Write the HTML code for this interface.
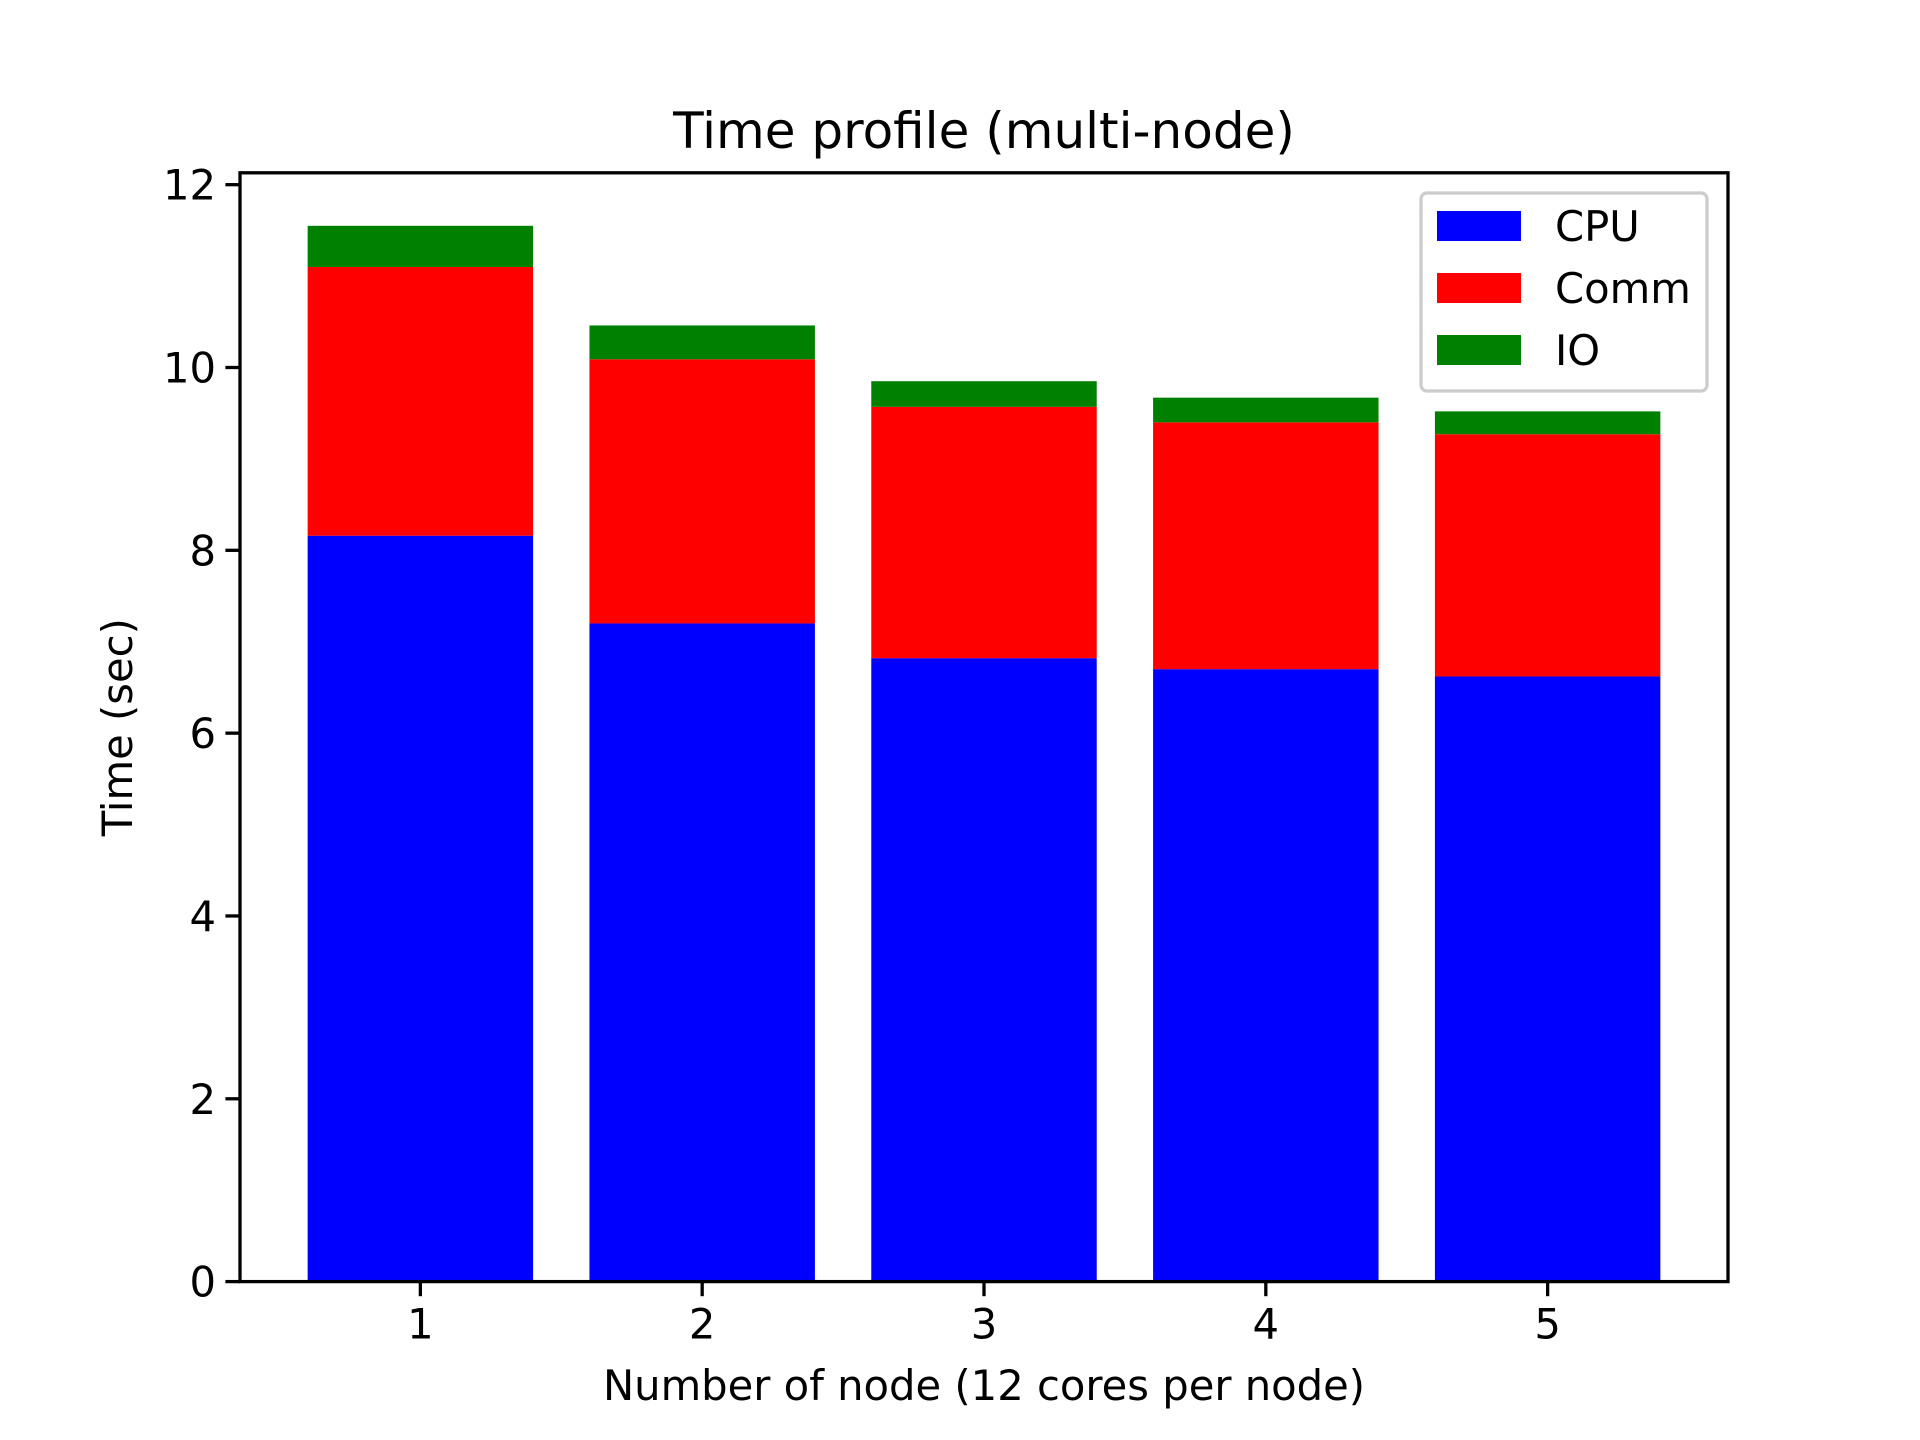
<!DOCTYPE html>
<html><head><meta charset="utf-8"><style>
html,body{margin:0;padding:0;background:#fff;width:1920px;height:1440px;overflow:hidden}
svg text{font-family:"DejaVu Sans","Liberation Sans",sans-serif;fill:#000}
</style></head><body>
<svg id="chart" width="1920" height="1440" viewBox="0 0 1920 1440" xmlns="http://www.w3.org/2000/svg"></svg>
<script>
const categories = [1, 2, 3, 4, 5];
const cpuValues = [8.16, 7.20, 6.82, 6.70, 6.62];
const commValues = [2.94, 2.89, 2.75, 2.70, 2.65];
const ioValues = [0.45, 0.37, 0.28, 0.27, 0.25];
const yTicks = [0, 2, 4, 6, 8, 10, 12];
const seriesNames = ["CPU", "Comm", "IO"];

const NS = "http://www.w3.org/2000/svg";
const svg = document.getElementById("chart");
const L = 240, R = 1728, T = 172.8, B = 1281.6;
const xMin = 0.36, xMax = 5.64, yMin = 0, yMax = 12.13;
const xs = v => L + (v - xMin) / (xMax - xMin) * (R - L);
const ys = v => B - (v - yMin) / (yMax - yMin) * (B - T);
function mk(tag, attrs, parent) {
  const e = document.createElementNS(NS, tag);
  for (const k in attrs) e.setAttribute(k, attrs[k]);
  (parent || svg).appendChild(e);
  return e;
}
const colors = ["#0000ff", "#ff0000", "#008000"];
const series = [cpuValues, commValues, ioValues];
const bw = 0.8;
categories.forEach((c, i) => {
  let base = 0;
  series.forEach((s, j) => {
    const top = base + s[i];
    const r = mk("rect", {x: xs(c - bw / 2), y: ys(top), width: xs(c + bw / 2) - xs(c - bw / 2), height: ys(base) - ys(top), fill: colors[j]});
    
    
    base = top;
  });
});
const frame = mk("rect", {x: L, y: T, width: R - L, height: B - T, fill: "none", stroke: "#000", "stroke-width": 3.3});


categories.forEach(c => {
  const x = xs(c);
  mk("line", {x1: x, x2: x, y1: B, y2: B + 14.6, stroke: "#000", "stroke-width": 3.3});
  const t = mk("text", {x: x, y: B + 57, "font-size": 41.7, "text-anchor": "middle"});
  t.textContent = c;
  
  
});
yTicks.forEach(v => {
  const y = ys(v);
  mk("line", {x1: L - 14.6, x2: L, y1: y, y2: y, stroke: "#000", "stroke-width": 3.3});
  const t = mk("text", {x: L - 24, y: y + 15, "font-size": 41.7, "text-anchor": "end"});
  t.textContent = v;
  
  
});
const title = mk("text", {x: (L + R) / 2, y: 148, "font-size": 50, "text-anchor": "middle"});
title.textContent = "Time profile (multi-node)";


const xl = mk("text", {x: (L + R) / 2, y: 1400, "font-size": 41.7, "text-anchor": "middle"});
xl.textContent = "Number of node (12 cores per node)";


const yl = mk("text", {x: 0, y: 0, "font-size": 41.7, "text-anchor": "middle", transform: "translate(132," + ((T + B) / 2) + ") rotate(-90)"});
yl.textContent = "Time (sec)";


const lg = mk("g", {transform: "translate(-21,-3)"});


mk("rect", {x: 1442, y: 196, width: 286, height: 198, rx: 6, fill: "#fff", "fill-opacity": 0.8, stroke: "#cccccc", "stroke-width": 3.3}, lg);
seriesNames.forEach((n, j) => {
  const cy = 229 + j * 62;
  const h = mk("rect", {x: 1458, y: cy - 15, width: 84, height: 30, fill: colors[j]}, lg);
  
  
  const t = mk("text", {x: 1576, y: cy + 15, "font-size": 41.7}, lg);
  t.textContent = n;
  
  
});
</script>
</body></html>
